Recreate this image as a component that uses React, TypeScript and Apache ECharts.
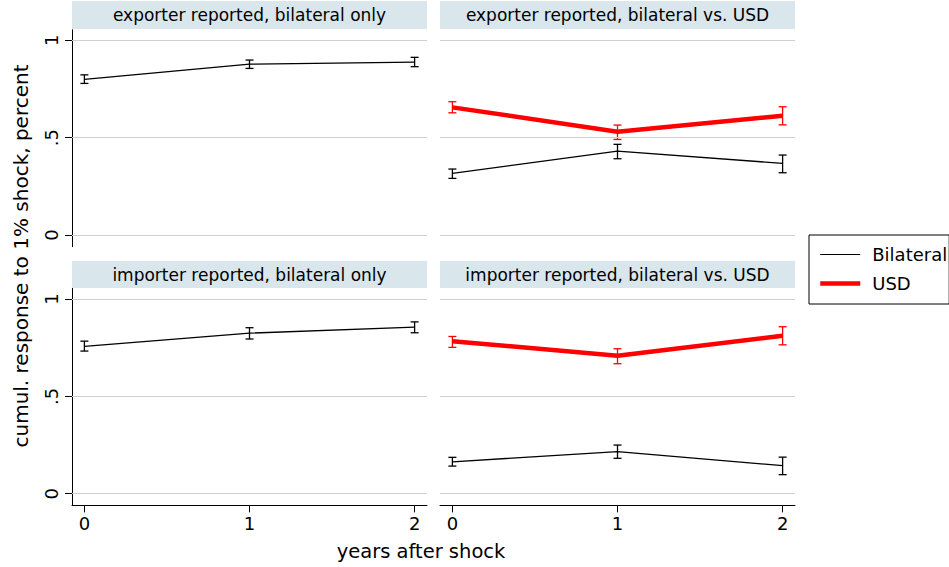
import React, { useEffect, useRef } from "react";
import * as echarts from "echarts";

const years = [0, 1, 2];
const yTicks = [0, 0.5, 1];

const panelTitles = [
  "exporter reported, bilateral only",
  "exporter reported, bilateral vs. USD",
  "importer reported, bilateral only",
  "importer reported, bilateral vs. USD",
];

// exporter reported, bilateral only
const expBilOnly = [0.8, 0.878, 0.888];
const expBilOnlyLo = [0.779, 0.856, 0.865];
const expBilOnlyHi = [0.823, 0.899, 0.913];
// exporter reported, bilateral vs USD
const expBil = [0.317, 0.431, 0.368];
const expBilLo = [0.291, 0.392, 0.32];
const expBilHi = [0.339, 0.466, 0.411];
const expUsd = [0.656, 0.531, 0.613];
const expUsdLo = [0.628, 0.491, 0.566];
const expUsdHi = [0.685, 0.565, 0.659];
// importer reported, bilateral only
const impBilOnly = [0.757, 0.825, 0.856];
const impBilOnlyLo = [0.733, 0.795, 0.827];
const impBilOnlyHi = [0.784, 0.853, 0.883];
// importer reported, bilateral vs USD
const impBil = [0.164, 0.216, 0.144];
const impBilLo = [0.142, 0.182, 0.098];
const impBilHi = [0.187, 0.25, 0.188];
const impUsd = [0.784, 0.709, 0.812];
const impUsdLo = [0.752, 0.668, 0.765];
const impUsdHi = [0.808, 0.745, 0.858];

const FONT = "DejaVu Sans";
const HEADER_BG = "#d9e6ec";
const GRID_COLOR = "#d0d0d0";

export default function App() {
  const ref = useRef<HTMLDivElement>(null);

  useEffect(() => {
    if (!ref.current) return;
    const chart = echarts.init(ref.current, null, { renderer: "svg" });

    const grids = [
      { left: 72, top: 29.7, width: 355, height: 217 },
      { left: 440, top: 29.7, width: 355, height: 217 },
      { left: 72, top: 288.4, width: 355, height: 217 },
      { left: 440, top: 288.4, width: 355, height: 217 },
    ];

    const xAxes = grids.map((_, i) => {
      const bottom = i >= 2;
      return {
        gridIndex: i,
        type: "value",
        min: -0.075,
        max: 2.075,
        show: bottom,
        axisLine: { show: true, onZero: false, lineStyle: { color: "#000", width: 1 } },
        axisTick: { show: true, length: 7, customValues: years, lineStyle: { color: "#000", width: 1 } },
        axisLabel: {
          customValues: years,
          fontSize: 18,
          fontFamily: FONT,
          color: "#000",
          margin: 9,
        },
        splitLine: { show: false },
      };
    });

    const yAxes = grids.map((_, i) => {
      const left = i % 2 === 0;
      return {
        gridIndex: i,
        type: "value",
        min: -0.06,
        max: 1.055,
        show: left,
        axisLine: { show: true, onZero: false, lineStyle: { color: "#000", width: 1 } },
        axisTick: { show: true, length: 7, customValues: yTicks, lineStyle: { color: "#000", width: 1 } },
        axisLabel: {
          customValues: yTicks,
          rotate: 90,
          fontSize: 18,
          fontFamily: FONT,
          color: "#000",
          margin: 12,
          formatter: (v: number) => (v === 0.5 ? ".5" : String(v)),
        },
        splitLine: { show: false },
      };
    });

    const gridLines = {
      silent: true,
      symbol: "none",
      label: { show: false },
      lineStyle: { color: GRID_COLOR, width: 1, type: "solid" },
      data: yTicks.map((v) => ({ yAxis: v })),
    };

    const lineSeries = (name: string, idx: number, vals: number[], color: string, width: number, withGrid: boolean) => ({
      name,
      type: "line",
      xAxisIndex: idx,
      yAxisIndex: idx,
      data: years.map((y, k) => [y, vals[k]]),
      symbol: "none",
      lineStyle: { color, width },
      itemStyle: { color },
      z: 3,
      markLine: withGrid ? gridLines : undefined,
    });

    const errSeries = (idx: number, lo: number[], hi: number[], color: string) => ({
      name: "ci",
      type: "custom",
      xAxisIndex: idx,
      yAxisIndex: idx,
      z: 4,
      data: years.map((y, k) => [y, lo[k], hi[k]]),
      encode: { x: 0, y: [1, 2] },
      renderItem: (params: any, api: any) => {
        const x = api.value(0);
        const p1 = api.coord([x, api.value(1)]);
        const p2 = api.coord([x, api.value(2)]);
        const w = 4;
        const st = { stroke: color, lineWidth: 1.3 };
        return {
          type: "group",
          children: [
            { type: "line", shape: { x1: p1[0], y1: p1[1], x2: p2[0], y2: p2[1] }, style: st },
            { type: "line", shape: { x1: p1[0] - w, y1: p1[1], x2: p1[0] + w, y2: p1[1] }, style: st },
            { type: "line", shape: { x1: p2[0] - w, y1: p2[1], x2: p2[0] + w, y2: p2[1] }, style: st },
          ],
        };
      },
    });

    const BLK = "#000";
    const RED = "#ff0000";

    const series = [
      lineSeries("Bilateral", 0, expBilOnly, BLK, 1.3, true),
      lineSeries("Bilateral", 1, expBil, BLK, 1.3, true),
      lineSeries("USD", 1, expUsd, RED, 4.5, false),
      lineSeries("Bilateral", 2, impBilOnly, BLK, 1.3, true),
      lineSeries("Bilateral", 3, impBil, BLK, 1.3, true),
      lineSeries("USD", 3, impUsd, RED, 4.5, false),
      errSeries(0, expBilOnlyLo, expBilOnlyHi, BLK),
      errSeries(1, expBilLo, expBilHi, BLK),
      errSeries(1, expUsdLo, expUsdHi, RED),
      errSeries(2, impBilOnlyLo, impBilOnlyHi, BLK),
      errSeries(3, impBilLo, impBilHi, BLK),
      errSeries(3, impUsdLo, impUsdHi, RED),
    ];

    const headers: any[] = [];
    const headerBoxes = [
      { x: 72, y: 1, w: 355, h: 28 },
      { x: 440, y: 1, w: 355, h: 28 },
      { x: 72, y: 261, w: 355, h: 27 },
      { x: 440, y: 261, w: 355, h: 27 },
    ];
    headerBoxes.forEach((b, i) => {
      headers.push({
        type: "rect",
        shape: { x: b.x, y: b.y, width: b.w, height: b.h },
        style: { fill: HEADER_BG },
        silent: true,
      });
      headers.push({
        type: "text",
        x: b.x + b.w / 2,
        y: b.y + b.h / 2,
        style: {
          text: panelTitles[i],
          fontSize: 17,
          fontFamily: FONT,
          fill: "#000",
          align: "center",
          verticalAlign: "middle",
        },
        silent: true,
      });
    });

    const option = {
      animation: false,
      backgroundColor: "#fff",
      grid: grids,
      xAxis: xAxes,
      yAxis: yAxes,
      series,
      legend: {
        data: [
          { name: "Bilateral", lineStyle: { width: 1.2, color: BLK } },
          { name: "USD", lineStyle: { width: 4.5, color: RED } },
        ],
        orient: "vertical",
        left: 809,
        top: 235,
        itemWidth: 40,
        itemHeight: 14,
        itemGap: 8,
        padding: [9, 2, 10, 9],
        borderColor: "#000",
        borderWidth: 1,
        selectedMode: false,
        itemStyle: { opacity: 0 },
        textStyle: { fontSize: 18, fontFamily: FONT, color: "#000", lineHeight: 21, padding: [0, 0, 0, 7] },
      },
      graphic: [
        ...headers,
        {
          type: "text",
          x: 21,
          y: 256,
          rotation: Math.PI / 2,
          style: {
            text: "cumul. response to 1% shock, percent",
            fontSize: 20,
            fontFamily: FONT,
            fill: "#000",
            align: "center",
            verticalAlign: "middle",
          },
          silent: true,
        },
        {
          type: "text",
          x: 421,
          y: 551,
          style: {
            text: "years after shock",
            fontSize: 19.5,
            fontFamily: FONT,
            fill: "#000",
            align: "center",
            verticalAlign: "middle",
          },
          silent: true,
        },
      ],
    };

    chart.setOption(option as any);
    return () => chart.dispose();
  }, []);

  return (
    <div
      ref={ref}
      style={{ position: "absolute", left: 0, top: 0, width: 949, height: 567 }}
    />
  );
}
